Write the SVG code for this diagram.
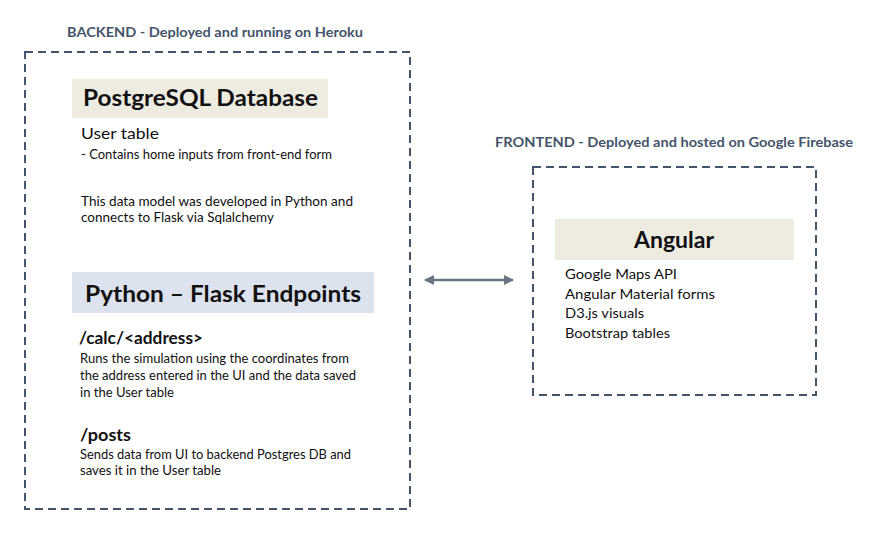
<svg xmlns="http://www.w3.org/2000/svg" width="881" height="558" viewBox="0 0 881 558">
<style>
text{font-family:Lato,"Liberation Sans",sans-serif;fill:#111}
.sec{font-weight:bold;font-size:12.5px;fill:#44546a}
.frame{fill:none;stroke:#44546a;stroke-width:2;stroke-dasharray:8 5}
.h{font-weight:bold;font-size:23px}
.sub{font-weight:bold;font-size:17px}
.b{font-size:12.5px}
.l{font-size:14px}
</style>
<defs>
<marker id="ah" viewBox="0 0 10 10" refX="9" refY="5" markerWidth="4" markerHeight="4" orient="auto-start-reverse">
<path d="M0,0 L10,5 L0,10 z" fill="#6b7584"/>
</marker>
</defs>
<rect width="881" height="558" fill="#fff"/>
<g id="backend">
<text class="sec" x="67" y="37" textLength="296" lengthAdjust="spacingAndGlyphs">BACKEND - Deployed and running on Heroku</text>
<rect class="frame" x="25" y="52" width="385" height="457"/>
</g>
<g id="postgres">
<rect x="72" y="79" width="256" height="39" fill="#eeece1"/>
<text class="h" x="83" y="106" textLength="235" lengthAdjust="spacingAndGlyphs">PostgreSQL Database</text>
<text x="81" y="139" font-size="16" textLength="78" lengthAdjust="spacingAndGlyphs">User table</text>
<text class="b" x="81" y="159" textLength="251" lengthAdjust="spacingAndGlyphs">- Contains home inputs from front-end form</text>
<text class="b" x="81" y="206" textLength="272" lengthAdjust="spacingAndGlyphs">This data model was developed in Python and</text>
<text class="b" x="81" y="222" textLength="193" lengthAdjust="spacingAndGlyphs">connects to Flask via Sqlalchemy</text>
</g>
<g id="flask">
<rect x="72" y="272" width="302" height="41" fill="#dce3ef"/>
<text class="h" x="85" y="302" textLength="276" lengthAdjust="spacingAndGlyphs">Python – Flask Endpoints</text>
<text class="sub" x="79" y="344" textLength="124" lengthAdjust="spacingAndGlyphs">/calc/&lt;address&gt;</text>
<text class="b" x="80" y="363" textLength="269" lengthAdjust="spacingAndGlyphs">Runs the simulation using the coordinates from</text>
<text class="b" x="80" y="380" textLength="276" lengthAdjust="spacingAndGlyphs">the address entered in the UI and the data saved</text>
<text class="b" x="80" y="397" textLength="94" lengthAdjust="spacingAndGlyphs">in the User table</text>
<text class="sub" x="80" y="441" textLength="51" lengthAdjust="spacingAndGlyphs">/posts</text>
<text class="b" x="80" y="459" textLength="271" lengthAdjust="spacingAndGlyphs">Sends data from UI to backend Postgres DB and</text>
<text class="b" x="80" y="475" textLength="141" lengthAdjust="spacingAndGlyphs">saves it in the User table</text>
</g>
<g id="frontend">
<text class="sec" x="495" y="147" textLength="358" lengthAdjust="spacingAndGlyphs">FRONTEND - Deployed and hosted on Google Firebase</text>
<rect class="frame" x="533" y="167" width="283" height="228"/>
</g>
<g id="angular">
<rect x="555" y="219" width="239" height="41" fill="#eeece1"/>
<text class="h" x="674" y="248" text-anchor="middle">Angular</text>
<text class="l" x="565" y="279" textLength="112" lengthAdjust="spacingAndGlyphs">Google Maps API</text>
<text class="l" x="565" y="299" textLength="150" lengthAdjust="spacingAndGlyphs">Angular Material forms</text>
<text class="l" x="565" y="318" textLength="79" lengthAdjust="spacingAndGlyphs">D3.js visuals</text>
<text class="l" x="565" y="338" textLength="105" lengthAdjust="spacingAndGlyphs">Bootstrap tables</text>
</g>
<g id="connectors">
<line x1="425" y1="280" x2="513" y2="280" stroke="#6b7584" stroke-width="2.5" marker-start="url(#ah)" marker-end="url(#ah)"/>
</g>
</svg>
